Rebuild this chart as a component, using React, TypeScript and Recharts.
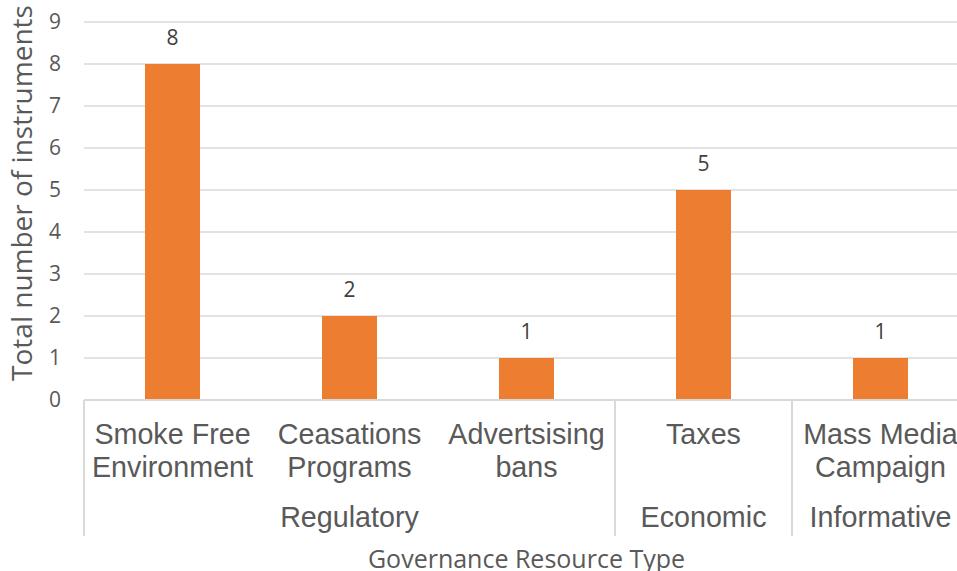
import React from 'react';
import { BarChart, Bar, XAxis, YAxis, CartesianGrid, LabelList } from 'recharts';

const categories = ['Smoke Free\nEnvironment', 'Ceasations\nPrograms', 'Advertsising\nbans', 'Taxes', 'Mass Media\nCampaign'];
const groups = ['Regulatory', 'Regulatory', 'Regulatory', 'Economic', 'Informative'];
const values = [8, 2, 1, 5, 1];
const yTicks = [0, 1, 2, 3, 4, 5, 6, 7, 8, 9];
const yTitle = 'Total number of instruments';
const xTitle = 'Governance Resource Type';

const data = categories.map((c, i) => ({ name: c, group: groups[i], value: values[i] }));

const LABEL_COLOR = '#595959';
const GRID_COLOR = '#D9D9D9';
const CAT_FONT = { fontFamily: '"Liberation Sans", Arial, sans-serif', fontSize: 28.7 };

const CategoryTick = (props: any) => {
  const { x, y, payload, index } = props;
  const half = payload.offset || 0;
  const lines = String(payload.value).split('\n');
  const g = groups[index];
  const isFirst = index === 0 || groups[index - 1] !== g;
  const isLast = index === groups.length - 1 || groups[index + 1] !== g;
  const members = groups.map((v, i) => (v === g ? i : -1)).filter((i) => i >= 0);
  const groupCenterOffset = ((members[0] + members[members.length - 1]) / 2 - index) * half * 2;
  const axisY = y - 8;
  return (
    <g>
      {lines.map((l, i) => (
        <text key={i} x={x} y={axisY + 44 + i * 33} textAnchor="middle" fill={LABEL_COLOR} style={CAT_FONT}>{l}</text>
      ))}
      {Math.abs(groupCenterOffset) < 0.5 || (members.length % 2 === 0 && index === members[members.length / 2 - 1]) ? (
        <text x={x + groupCenterOffset} y={axisY + 127} textAnchor="middle" fill={LABEL_COLOR} style={CAT_FONT}>{g}</text>
      ) : null}
      {isFirst ? <line x1={x - half} x2={x - half} y1={axisY} y2={axisY + 136} stroke={GRID_COLOR} strokeWidth={2} /> : null}
      {isLast ? <line x1={x + half} x2={x + half} y1={axisY} y2={axisY + 136} stroke={GRID_COLOR} strokeWidth={2} /> : null}
    </g>
  );
};

export default function App() {
  return (
    <div style={{ position: 'absolute', left: 0, top: 0, width: 957, height: 571, overflow: 'hidden', background: '#fff' }}>
      <BarChart width={980} height={571} data={data} margin={{ top: 22, right: 11, left: 0, bottom: 0 }}>
        <CartesianGrid vertical={false} stroke={GRID_COLOR} strokeWidth={1.5} />
        <XAxis dataKey="name" interval={0} height={171} tickLine={false}
          axisLine={{ stroke: GRID_COLOR, strokeWidth: 2 }} tick={<CategoryTick />}
          label={{
            content: (p: any) => {
              const vb = p.viewBox;
              return (
                <text x={vb.x + vb.width / 2} y={vb.y + 168} textAnchor="middle" fill={LABEL_COLOR}
                  style={{ fontFamily: '"Open Sans", sans-serif', fontSize: 25 }}>{xTitle}</text>
              );
            },
          }} />
        <YAxis domain={[0, 9]} ticks={yTicks} width={84} tickLine={false} axisLine={false} tickMargin={17}
          tick={{ fill: LABEL_COLOR, fontSize: 21, fontFamily: '"Open Sans", sans-serif' }}
          label={{
            content: (p: any) => {
              const vb = p.viewBox;
              const cy = vb.y + vb.height / 2 - 18;
              return (
                <text transform={`translate(32, ${cy}) rotate(-90)`} textAnchor="middle" fill={LABEL_COLOR}
                  style={{ fontFamily: '"Open Sans", sans-serif', fontSize: 28 }}>{yTitle}</text>
              );
            },
          }} />
        <Bar dataKey="value" fill="#ED7D31" barSize={55} isAnimationActive={false}>
          <LabelList dataKey="value" position="top" offset={19} fill="#404040"
            style={{ fontFamily: '"Open Sans", sans-serif', fontSize: 21 }} />
        </Bar>
      </BarChart>
    </div>
  );
}
